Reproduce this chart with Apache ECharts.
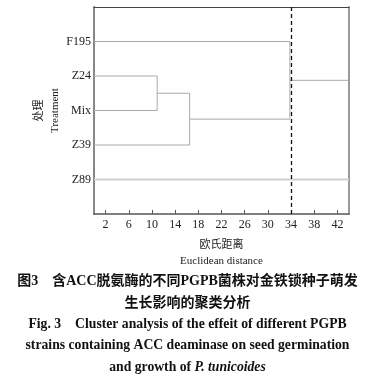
<!DOCTYPE html>
<html>
<head>
<meta charset="utf-8">
<script src="https://cdn.jsdelivr.net/npm/echarts@6/dist/echarts.min.js"></script>
<style>
html,body{margin:0;padding:0;background:#fff;}
#chart{width:375px;height:382px;}
</style>
</head>
<body>
<div id="chart"></div>
<script>
// ---- data ----
const leaves = ['F195', 'Z24', 'Mix', 'Z39', 'Z89'];
// merges: [left member, right member, Euclidean distance]
const merges = [
  ['Z24', 'Mix', 10.9],
  ['C1', 'Z39', 16.5],
  ['F195', 'C2', 33.8]
];
const singletonLeaf = 'Z89';      // not merged below the axis max
const cutoff = 34;                 // dashed cut line
const xTicks = [2, 6, 10, 14, 18, 22, 26, 30, 34, 38, 42];
const xMin = 0, xMax = 44;

// ---- build dendrogram paths from data ----
const nodes = {};
leaves.forEach((n, i) => { nodes[n] = { x: 0, y: i + 1 }; });
const linkPaths = [];
merges.forEach((m, i) => {
  const a = nodes[m[0]], b = nodes[m[1]], h = m[2];
  linkPaths.push([[a.x, a.y], [h, a.y], [h, b.y], [b.x, b.y]]);
  nodes['C' + (i + 1)] = { x: h, y: (a.y + b.y) / 2 };
});
const root = nodes['C' + merges.length];
linkPaths.push([[root.x, root.y], [xMax, root.y]]);
const z = nodes[singletonLeaf];
const singlePath = [[0, z.y], [xMax, z.y]];

const serif = '"Liberation Serif","Times New Roman","Noto Sans CJK SC",serif';
const lineColor = '#a9a9a9';

const series = linkPaths.map(p => ({
  type: 'line', data: p, symbol: 'none', silent: true,
  lineStyle: { color: lineColor, width: 1 }, animation: false
}));
series.push({
  type: 'line', data: singlePath, symbol: 'none', silent: true,
  lineStyle: { color: '#cfcfcf', width: 2 }, animation: false
});
series.push({
  type: 'line', data: [], silent: true, animation: false,
  markLine: {
    silent: true, symbol: 'none', animation: false,
    label: { show: false },
    lineStyle: { color: '#111', type: [4, 3], width: 1.3 },
    data: [{ xAxis: cutoff }]
  }
});

const capFontCn = 'bold 14px "Liberation Serif","Noto Sans CJK SC",serif';
const capFontEn = 'bold 13.7px "Liberation Serif",serif';

const chart = echarts.init(document.getElementById('chart'), null, { renderer: 'canvas' });
chart.setOption({
  animation: false,
  backgroundColor: '#fff',
  grid: { left: 94, right: 26, top: 7, bottom: 168 },
  xAxis: [{
    type: 'value', min: xMin, max: xMax, position: 'bottom',
    splitLine: { show: false },
    axisLine: { onZero: false, lineStyle: { color: '#555', width: 1.5 } },
    axisTick: { inside: true, length: 4, customValues: xTicks, lineStyle: { color: '#555' } },
    axisLabel: { customValues: xTicks, color: '#222', fontFamily: serif, fontSize: 12, margin: 5 },
    name: '欧氏距离\nEuclidean distance', nameLocation: 'middle', nameGap: 23,
    nameMoveOverlap: false,
    nameTextStyle: { color: '#222', fontFamily: serif, fontSize: 11, lineHeight: 16 }
  }, {
    type: 'value', min: xMin, max: xMax, position: 'top',
    splitLine: { show: false },
    axisLine: { show: true, onZero: false, lineStyle: { color: '#444', width: 1 } },
    axisTick: { show: false }, axisLabel: { show: false }
  }],
  yAxis: [{
    type: 'value', min: 0, max: leaves.length + 1, inverse: true, position: 'left',
    splitLine: { show: false },
    axisLine: { show: true, onZero: false, lineStyle: { color: '#888', width: 2 } },
    axisTick: { show: false },
    axisLabel: {
      customValues: leaves.map((n, i) => i + 1),
      formatter: v => leaves[v - 1] || '',
      color: '#222', fontFamily: serif, fontSize: 12, margin: 3
    },
    name: '处理\nTreatment', nameLocation: 'middle', nameGap: 31, nameRotate: 90,
    nameMoveOverlap: false,
    nameTextStyle: { color: '#222', fontFamily: serif, fontSize: 11, lineHeight: 16 }
  }, {
    type: 'value', min: 0, max: leaves.length + 1, inverse: true, position: 'right',
    splitLine: { show: false },
    axisLine: { show: true, onZero: false, lineStyle: { color: '#999', width: 2 } },
    axisTick: { show: false }, axisLabel: { show: false }
  }],
  series: series,
  graphic: [
    { type: 'text', left: 'center', top: 274, style: {
      text: '图3　含ACC脱氨酶的不同PGPB菌株对金铁锁种子萌发', font: capFontCn, fill: '#111' } },
    { type: 'text', left: 'center', top: 296, style: {
      text: '生长影响的聚类分析', font: capFontCn, fill: '#111' } },
    { type: 'text', left: 'center', top: 317, style: {
      text: 'Fig. 3　Cluster analysis of the effeit of different PGPB', font: capFontEn, fill: '#111' } },
    { type: 'text', left: 'center', top: 338, style: {
      text: 'strains containing ACC deaminase on seed germination', font: capFontEn, fill: '#111' } },
    { type: 'text', left: 'center', top: 360, style: {
      text: '{a|and growth of }{b|P. tunicoides}',
      rich: {
        a: { font: capFontEn, fill: '#111' },
        b: { font: 'italic ' + capFontEn, fill: '#111' }
      } } }
  ]
});
</script>
</body>
</html>
